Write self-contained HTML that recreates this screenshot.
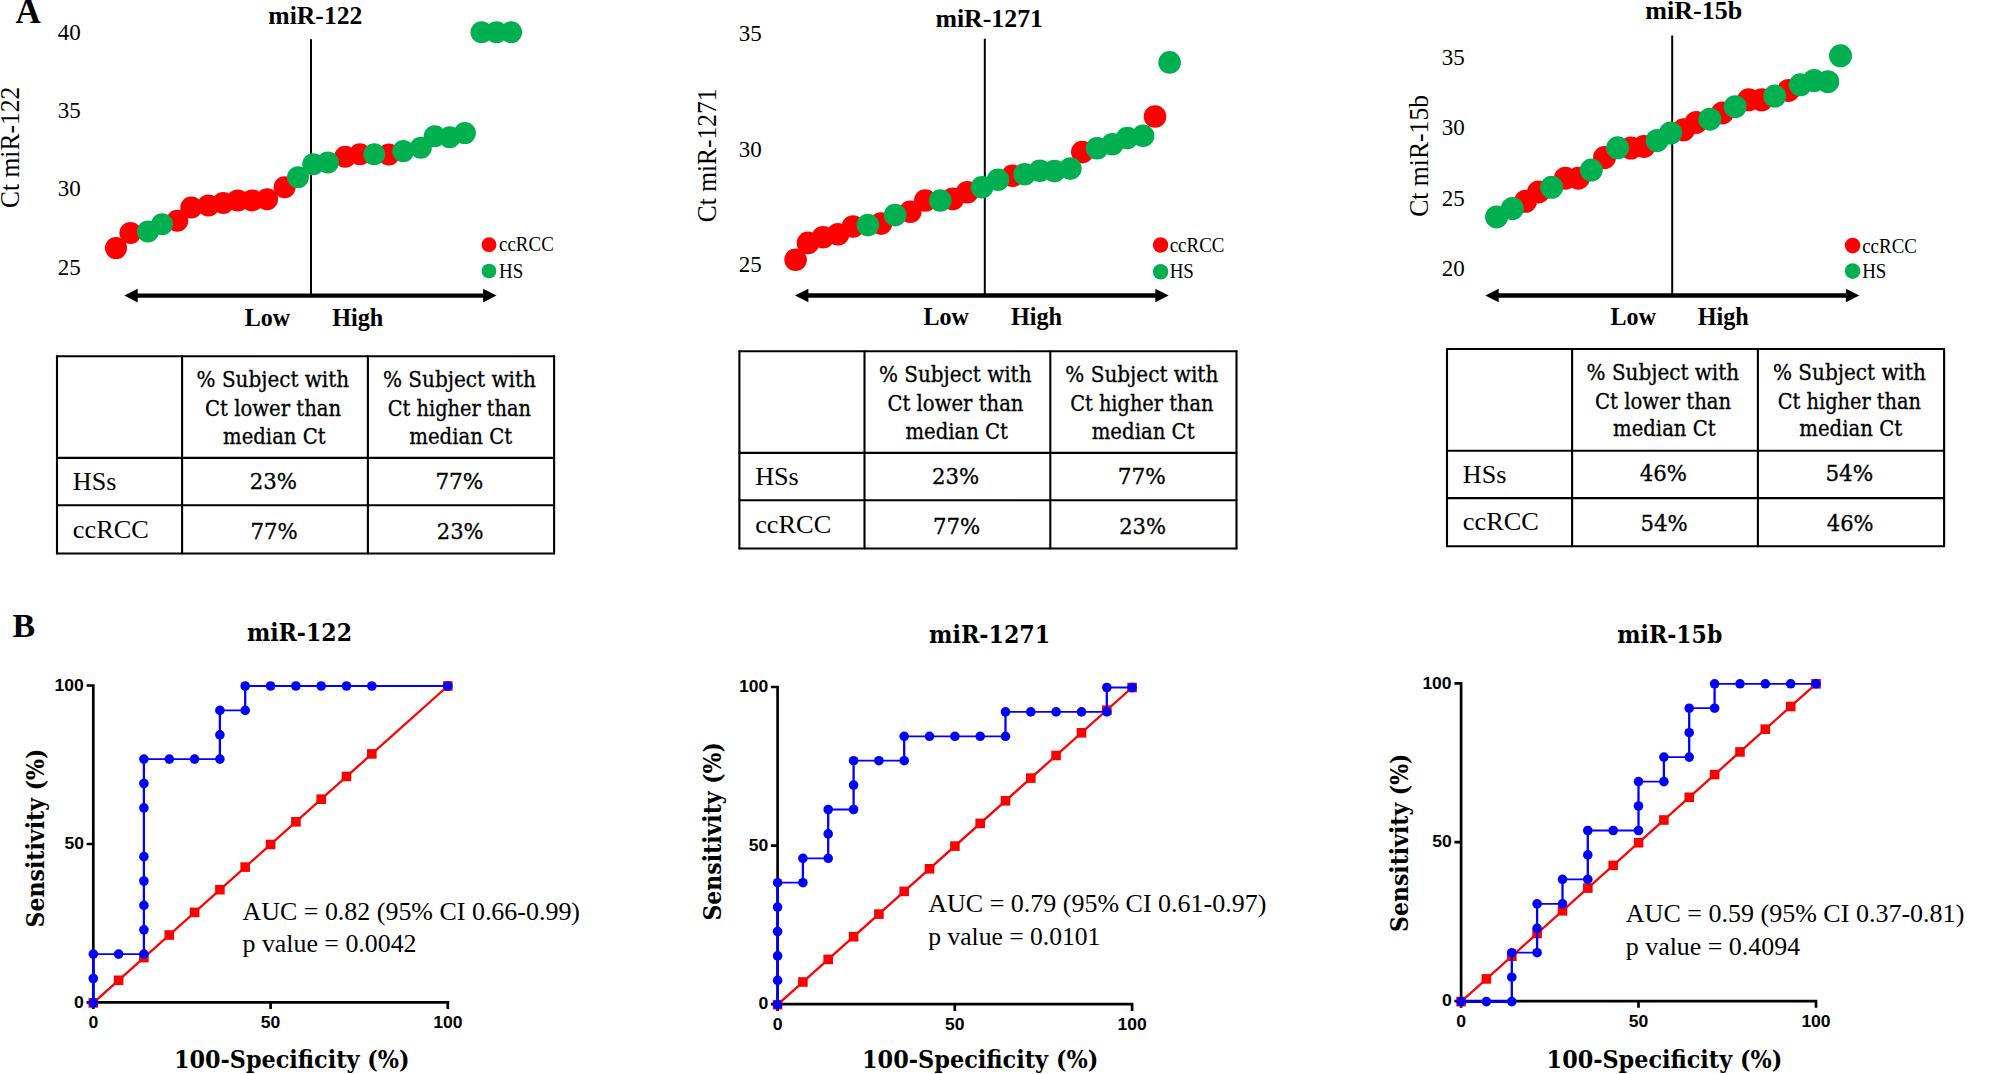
<!DOCTYPE html>
<html lang="en"><head><meta charset="utf-8"><title>Figure: Ct distribution and ROC curves for miR-122, miR-1271 and miR-15b</title>
<style>html,body{margin:0;padding:0;background:#fff}svg{display:block}text{fill:#000;white-space:pre}</style></head><body>
<svg width="2006" height="1074" viewBox="0 0 2006 1074">
<rect width="2006" height="1074" fill="#fff"/>
<text x="15.6" y="23.0" font-size="35" font-family='"Liberation Serif", serif' font-weight="bold">A</text>
<text x="12.5" y="637.4" font-size="34" font-family='"Liberation Serif", serif' font-weight="bold">B</text>
<line x1="311.0" y1="39.3" x2="311.0" y2="295.5" stroke="#000" stroke-width="2"/>
<line x1="136.7" y1="295.6" x2="484.1" y2="295.6" stroke="#000" stroke-width="4.4"/>
<polygon points="124.3,295.6 137.7,288.8 137.7,302.4" fill="#000"/>
<polygon points="496.5,295.6 483.1,288.8 483.1,302.4" fill="#000"/>
<g fill="#ff0000">
<circle cx="116.0" cy="248.1" r="11.0"/>
<circle cx="130.4" cy="233.0" r="11.0"/>
<circle cx="177.3" cy="220.8" r="11.0"/>
<circle cx="191.3" cy="207.5" r="11.0"/>
<circle cx="208.5" cy="205.4" r="11.0"/>
<circle cx="223.2" cy="203.0" r="11.0"/>
<circle cx="237.8" cy="200.4" r="11.0"/>
<circle cx="252.2" cy="200.4" r="11.0"/>
<circle cx="267.1" cy="199.2" r="11.0"/>
<circle cx="284.6" cy="187.3" r="11.0"/>
<circle cx="345.2" cy="156.8" r="11.0"/>
<circle cx="359.9" cy="154.3" r="11.0"/>
<circle cx="388.8" cy="154.5" r="11.0"/>
</g>
<g fill="#00b050">
<circle cx="148.0" cy="231.5" r="11.0"/>
<circle cx="162.0" cy="224.2" r="11.0"/>
<circle cx="298.0" cy="177.3" r="11.0"/>
<circle cx="313.2" cy="164.2" r="11.0"/>
<circle cx="327.9" cy="162.4" r="11.0"/>
<circle cx="374.2" cy="154.3" r="11.0"/>
<circle cx="403.3" cy="151.1" r="11.0"/>
<circle cx="420.8" cy="147.8" r="11.0"/>
<circle cx="434.7" cy="136.2" r="11.0"/>
<circle cx="449.7" cy="137.2" r="11.0"/>
<circle cx="464.9" cy="133.1" r="11.0"/>
<circle cx="481.5" cy="32.2" r="11.0"/>
<circle cx="496.5" cy="32.2" r="11.0"/>
<circle cx="511.1" cy="32.2" r="11.0"/>
</g>
<text x="268.3" y="23.7" font-size="25" font-family='"Liberation Serif", serif' font-weight="bold" textLength="94.1" lengthAdjust="spacingAndGlyphs">miR-122</text>
<text x="57.8" y="39.5" font-size="23.5" font-family='"Liberation Serif", serif' textLength="23.0" lengthAdjust="spacingAndGlyphs">40</text>
<text x="57.8" y="117.9" font-size="23.5" font-family='"Liberation Serif", serif' textLength="23.0" lengthAdjust="spacingAndGlyphs">35</text>
<text x="57.8" y="196.3" font-size="23.5" font-family='"Liberation Serif", serif' textLength="23.0" lengthAdjust="spacingAndGlyphs">30</text>
<text x="57.8" y="274.7" font-size="23.5" font-family='"Liberation Serif", serif' textLength="23.0" lengthAdjust="spacingAndGlyphs">25</text>
<text x="19.0" y="208.0" font-size="28" font-family='"Liberation Serif", serif' textLength="121.2" lengthAdjust="spacingAndGlyphs" transform="rotate(-90 19.0 208.0)">Ct miR-122</text>
<text x="244.7" y="326.0" font-size="25.5" font-family='"Liberation Serif", serif' font-weight="bold" textLength="45.4" lengthAdjust="spacingAndGlyphs">Low</text>
<text x="332.2" y="326.0" font-size="25.5" font-family='"Liberation Serif", serif' font-weight="bold" textLength="51.1" lengthAdjust="spacingAndGlyphs">High</text>
<circle cx="489.0" cy="244.7" r="7.4" fill="#ff0000"/>
<circle cx="489.0" cy="271.1" r="7.4" fill="#00b050"/>
<text x="499.0" y="251.3" font-size="20" font-family='"Liberation Serif", serif' textLength="54.8" lengthAdjust="spacingAndGlyphs">ccRCC</text>
<text x="499.0" y="278.0" font-size="20" font-family='"Liberation Serif", serif' textLength="24.2" lengthAdjust="spacingAndGlyphs">HS</text>
<line x1="984.8" y1="38.7" x2="984.8" y2="295.5" stroke="#000" stroke-width="2"/>
<line x1="807.4" y1="295.5" x2="1156.3" y2="295.5" stroke="#000" stroke-width="4.4"/>
<polygon points="795.0,295.5 808.4,288.7 808.4,302.3" fill="#000"/>
<polygon points="1168.7,295.5 1155.3,288.7 1155.3,302.3" fill="#000"/>
<g fill="#ff0000">
<circle cx="795.6" cy="259.8" r="11.3"/>
<circle cx="808.0" cy="242.9" r="11.3"/>
<circle cx="823.0" cy="237.3" r="11.3"/>
<circle cx="838.0" cy="234.2" r="11.3"/>
<circle cx="853.0" cy="226.5" r="11.3"/>
<circle cx="881.0" cy="223.6" r="11.3"/>
<circle cx="910.3" cy="211.7" r="11.3"/>
<circle cx="925.3" cy="200.5" r="11.3"/>
<circle cx="952.8" cy="198.9" r="11.3"/>
<circle cx="967.3" cy="192.2" r="11.3"/>
<circle cx="1012.5" cy="175.8" r="11.3"/>
<circle cx="1082.3" cy="152.1" r="11.3"/>
<circle cx="1155.0" cy="116.5" r="11.3"/>
</g>
<g fill="#00b050">
<circle cx="867.9" cy="225.1" r="11.3"/>
<circle cx="895.1" cy="215.1" r="11.3"/>
<circle cx="940.3" cy="200.5" r="11.3"/>
<circle cx="982.0" cy="187.3" r="11.3"/>
<circle cx="998.0" cy="179.8" r="11.3"/>
<circle cx="1024.6" cy="174.2" r="11.3"/>
<circle cx="1039.8" cy="170.8" r="11.3"/>
<circle cx="1054.4" cy="171.1" r="11.3"/>
<circle cx="1070.4" cy="168.6" r="11.3"/>
<circle cx="1097.1" cy="148.2" r="11.3"/>
<circle cx="1112.3" cy="144.3" r="11.3"/>
<circle cx="1127.2" cy="138.0" r="11.3"/>
<circle cx="1143.1" cy="135.8" r="11.3"/>
<circle cx="1169.6" cy="62.4" r="11.3"/>
</g>
<text x="935.4" y="26.7" font-size="25" font-family='"Liberation Serif", serif' font-weight="bold" textLength="107.6" lengthAdjust="spacingAndGlyphs">miR-1271</text>
<text x="738.7" y="40.8" font-size="23.5" font-family='"Liberation Serif", serif' textLength="23.0" lengthAdjust="spacingAndGlyphs">35</text>
<text x="738.7" y="156.5" font-size="23.5" font-family='"Liberation Serif", serif' textLength="23.0" lengthAdjust="spacingAndGlyphs">30</text>
<text x="738.7" y="272.2" font-size="23.5" font-family='"Liberation Serif", serif' textLength="23.0" lengthAdjust="spacingAndGlyphs">25</text>
<text x="716.2" y="222.3" font-size="28" font-family='"Liberation Serif", serif' textLength="133.8" lengthAdjust="spacingAndGlyphs" transform="rotate(-90 716.2 222.3)">Ct miR-1271</text>
<text x="923.5" y="325.4" font-size="25.5" font-family='"Liberation Serif", serif' font-weight="bold" textLength="45.4" lengthAdjust="spacingAndGlyphs">Low</text>
<text x="1010.9" y="325.3" font-size="25.5" font-family='"Liberation Serif", serif' font-weight="bold" textLength="51.1" lengthAdjust="spacingAndGlyphs">High</text>
<circle cx="1160.6" cy="245.0" r="7.7" fill="#ff0000"/>
<circle cx="1160.6" cy="271.8" r="7.7" fill="#00b050"/>
<text x="1169.7" y="251.6" font-size="20" font-family='"Liberation Serif", serif' textLength="54.8" lengthAdjust="spacingAndGlyphs">ccRCC</text>
<text x="1169.7" y="278.4" font-size="20" font-family='"Liberation Serif", serif' textLength="24.2" lengthAdjust="spacingAndGlyphs">HS</text>
<line x1="1672.2" y1="35.6" x2="1672.2" y2="295.5" stroke="#000" stroke-width="2"/>
<line x1="1497.7" y1="295.5" x2="1846.9" y2="295.5" stroke="#000" stroke-width="4.4"/>
<polygon points="1485.3,295.5 1498.7,288.7 1498.7,302.3" fill="#000"/>
<polygon points="1859.3,295.5 1845.9,288.7 1845.9,302.3" fill="#000"/>
<g fill="#ff0000">
<circle cx="1525.5" cy="201.3" r="11.5"/>
<circle cx="1538.6" cy="191.9" r="11.5"/>
<circle cx="1565.4" cy="178.2" r="11.5"/>
<circle cx="1578.3" cy="178.2" r="11.5"/>
<circle cx="1604.5" cy="157.6" r="11.5"/>
<circle cx="1630.9" cy="148.0" r="11.5"/>
<circle cx="1644.0" cy="146.4" r="11.5"/>
<circle cx="1683.6" cy="129.8" r="11.5"/>
<circle cx="1696.3" cy="122.4" r="11.5"/>
<circle cx="1722.4" cy="112.9" r="11.5"/>
<circle cx="1748.6" cy="99.8" r="11.5"/>
<circle cx="1761.7" cy="99.8" r="11.5"/>
<circle cx="1788.5" cy="90.4" r="11.5"/>
</g>
<g fill="#00b050">
<circle cx="1496.6" cy="216.9" r="11.5"/>
<circle cx="1512.4" cy="208.5" r="11.5"/>
<circle cx="1551.7" cy="187.3" r="11.5"/>
<circle cx="1591.3" cy="170.1" r="11.5"/>
<circle cx="1617.6" cy="147.8" r="11.5"/>
<circle cx="1657.1" cy="140.5" r="11.5"/>
<circle cx="1670.6" cy="133.0" r="11.5"/>
<circle cx="1709.8" cy="119.2" r="11.5"/>
<circle cx="1735.2" cy="106.7" r="11.5"/>
<circle cx="1774.8" cy="96.1" r="11.5"/>
<circle cx="1800.3" cy="84.8" r="11.5"/>
<circle cx="1814.1" cy="80.5" r="11.5"/>
<circle cx="1827.8" cy="81.7" r="11.5"/>
<circle cx="1840.5" cy="55.8" r="11.5"/>
</g>
<text x="1645.2" y="18.7" font-size="25" font-family='"Liberation Serif", serif' font-weight="bold" textLength="97.0" lengthAdjust="spacingAndGlyphs">miR-15b</text>
<text x="1441.8" y="64.9" font-size="23.5" font-family='"Liberation Serif", serif' textLength="23.0" lengthAdjust="spacingAndGlyphs">35</text>
<text x="1441.8" y="135.4" font-size="23.5" font-family='"Liberation Serif", serif' textLength="23.0" lengthAdjust="spacingAndGlyphs">30</text>
<text x="1441.8" y="205.9" font-size="23.5" font-family='"Liberation Serif", serif' textLength="23.0" lengthAdjust="spacingAndGlyphs">25</text>
<text x="1441.8" y="276.4" font-size="23.5" font-family='"Liberation Serif", serif' textLength="23.0" lengthAdjust="spacingAndGlyphs">20</text>
<text x="1428.0" y="216.8" font-size="28" font-family='"Liberation Serif", serif' textLength="121.9" lengthAdjust="spacingAndGlyphs" transform="rotate(-90 1428.0 216.8)">Ct miR-15b</text>
<text x="1610.6" y="325.4" font-size="25.5" font-family='"Liberation Serif", serif' font-weight="bold" textLength="45.4" lengthAdjust="spacingAndGlyphs">Low</text>
<text x="1697.7" y="325.2" font-size="25.5" font-family='"Liberation Serif", serif' font-weight="bold" textLength="51.1" lengthAdjust="spacingAndGlyphs">High</text>
<circle cx="1852.6" cy="245.6" r="7.8" fill="#ff0000"/>
<circle cx="1852.6" cy="271.1" r="7.8" fill="#00b050"/>
<text x="1862.2" y="252.6" font-size="20" font-family='"Liberation Serif", serif' textLength="54.8" lengthAdjust="spacingAndGlyphs">ccRCC</text>
<text x="1862.2" y="278.4" font-size="20" font-family='"Liberation Serif", serif' textLength="24.2" lengthAdjust="spacingAndGlyphs">HS</text>
<g transform="translate(0,0)">
<g stroke="#000" stroke-width="2.1" stroke-linecap="round">
<line x1="57.0" y1="356.2" x2="57.0" y2="553.5"/>
<line x1="182.1" y1="356.2" x2="182.1" y2="553.5"/>
<line x1="367.9" y1="356.2" x2="367.9" y2="553.5"/>
<line x1="554.1" y1="356.2" x2="554.1" y2="553.5"/>
<line x1="57.0" y1="356.2" x2="554.1" y2="356.2"/>
<line x1="57.0" y1="457.9" x2="554.1" y2="457.9"/>
<line x1="57.0" y1="505.3" x2="554.1" y2="505.3"/>
<line x1="57.0" y1="553.5" x2="554.1" y2="553.5"/>
</g>
<text x="196.6" y="386.9" font-size="22" font-family='"DejaVu Serif Condensed", "DejaVu Serif", "Liberation Serif", serif' textLength="152.5" lengthAdjust="spacingAndGlyphs" stroke="#000" stroke-width="0.3">% Subject with</text>
<text x="205.1" y="415.8" font-size="22" font-family='"DejaVu Serif Condensed", "DejaVu Serif", "Liberation Serif", serif' textLength="136.0" lengthAdjust="spacingAndGlyphs" stroke="#000" stroke-width="0.3">Ct lower than</text>
<text x="223.1" y="443.7" font-size="22" font-family='"DejaVu Serif Condensed", "DejaVu Serif", "Liberation Serif", serif' textLength="102.5" lengthAdjust="spacingAndGlyphs" stroke="#000" stroke-width="0.3">median Ct</text>
<text x="382.9" y="386.9" font-size="22" font-family='"DejaVu Serif Condensed", "DejaVu Serif", "Liberation Serif", serif' textLength="153.0" lengthAdjust="spacingAndGlyphs" stroke="#000" stroke-width="0.3">% Subject with</text>
<text x="387.8" y="415.8" font-size="22" font-family='"DejaVu Serif Condensed", "DejaVu Serif", "Liberation Serif", serif' textLength="143.2" lengthAdjust="spacingAndGlyphs" stroke="#000" stroke-width="0.3">Ct higher than</text>
<text x="409.3" y="443.7" font-size="22" font-family='"DejaVu Serif Condensed", "DejaVu Serif", "Liberation Serif", serif' textLength="102.9" lengthAdjust="spacingAndGlyphs" stroke="#000" stroke-width="0.3">median Ct</text>
<text x="72.8" y="490.4" font-size="26" font-family='"Liberation Serif", serif' textLength="43.6" lengthAdjust="spacingAndGlyphs">HSs</text>
<text x="72.8" y="537.5" font-size="26" font-family='"Liberation Serif", serif' textLength="76.0" lengthAdjust="spacingAndGlyphs">ccRCC</text>
<text x="249.7" y="488.7" font-size="22.6" font-family='"DejaVu Serif Condensed", "DejaVu Serif", "Liberation Serif", serif' textLength="47.2" lengthAdjust="spacingAndGlyphs" stroke="#000" stroke-width="0.3">23%</text>
<text x="435.4" y="488.7" font-size="22.6" font-family='"DejaVu Serif Condensed", "DejaVu Serif", "Liberation Serif", serif' textLength="48.0" lengthAdjust="spacingAndGlyphs" stroke="#000" stroke-width="0.3">77%</text>
<text x="250.5" y="538.5" font-size="22.6" font-family='"DejaVu Serif Condensed", "DejaVu Serif", "Liberation Serif", serif' textLength="47.2" lengthAdjust="spacingAndGlyphs" stroke="#000" stroke-width="0.3">77%</text>
<text x="436.8" y="538.5" font-size="22.6" font-family='"DejaVu Serif Condensed", "DejaVu Serif", "Liberation Serif", serif' textLength="46.8" lengthAdjust="spacingAndGlyphs" stroke="#000" stroke-width="0.3">23%</text>
</g>
<g transform="translate(682.4,-5.0)">
<g stroke="#000" stroke-width="2.1" stroke-linecap="round">
<line x1="57.0" y1="356.2" x2="57.0" y2="553.5"/>
<line x1="182.1" y1="356.2" x2="182.1" y2="553.5"/>
<line x1="367.9" y1="356.2" x2="367.9" y2="553.5"/>
<line x1="554.1" y1="356.2" x2="554.1" y2="553.5"/>
<line x1="57.0" y1="356.2" x2="554.1" y2="356.2"/>
<line x1="57.0" y1="457.9" x2="554.1" y2="457.9"/>
<line x1="57.0" y1="505.3" x2="554.1" y2="505.3"/>
<line x1="57.0" y1="553.5" x2="554.1" y2="553.5"/>
</g>
<text x="196.6" y="386.9" font-size="22" font-family='"DejaVu Serif Condensed", "DejaVu Serif", "Liberation Serif", serif' textLength="152.5" lengthAdjust="spacingAndGlyphs" stroke="#000" stroke-width="0.3">% Subject with</text>
<text x="205.1" y="415.8" font-size="22" font-family='"DejaVu Serif Condensed", "DejaVu Serif", "Liberation Serif", serif' textLength="136.0" lengthAdjust="spacingAndGlyphs" stroke="#000" stroke-width="0.3">Ct lower than</text>
<text x="223.1" y="443.7" font-size="22" font-family='"DejaVu Serif Condensed", "DejaVu Serif", "Liberation Serif", serif' textLength="102.5" lengthAdjust="spacingAndGlyphs" stroke="#000" stroke-width="0.3">median Ct</text>
<text x="382.9" y="386.9" font-size="22" font-family='"DejaVu Serif Condensed", "DejaVu Serif", "Liberation Serif", serif' textLength="153.0" lengthAdjust="spacingAndGlyphs" stroke="#000" stroke-width="0.3">% Subject with</text>
<text x="387.8" y="415.8" font-size="22" font-family='"DejaVu Serif Condensed", "DejaVu Serif", "Liberation Serif", serif' textLength="143.2" lengthAdjust="spacingAndGlyphs" stroke="#000" stroke-width="0.3">Ct higher than</text>
<text x="409.3" y="443.7" font-size="22" font-family='"DejaVu Serif Condensed", "DejaVu Serif", "Liberation Serif", serif' textLength="102.9" lengthAdjust="spacingAndGlyphs" stroke="#000" stroke-width="0.3">median Ct</text>
<text x="72.8" y="490.4" font-size="26" font-family='"Liberation Serif", serif' textLength="43.6" lengthAdjust="spacingAndGlyphs">HSs</text>
<text x="72.8" y="537.5" font-size="26" font-family='"Liberation Serif", serif' textLength="76.0" lengthAdjust="spacingAndGlyphs">ccRCC</text>
<text x="249.7" y="488.7" font-size="22.6" font-family='"DejaVu Serif Condensed", "DejaVu Serif", "Liberation Serif", serif' textLength="47.2" lengthAdjust="spacingAndGlyphs" stroke="#000" stroke-width="0.3">23%</text>
<text x="435.4" y="488.7" font-size="22.6" font-family='"DejaVu Serif Condensed", "DejaVu Serif", "Liberation Serif", serif' textLength="48.0" lengthAdjust="spacingAndGlyphs" stroke="#000" stroke-width="0.3">77%</text>
<text x="250.5" y="538.5" font-size="22.6" font-family='"DejaVu Serif Condensed", "DejaVu Serif", "Liberation Serif", serif' textLength="47.2" lengthAdjust="spacingAndGlyphs" stroke="#000" stroke-width="0.3">77%</text>
<text x="436.8" y="538.5" font-size="22.6" font-family='"DejaVu Serif Condensed", "DejaVu Serif", "Liberation Serif", serif' textLength="46.8" lengthAdjust="spacingAndGlyphs" stroke="#000" stroke-width="0.3">23%</text>
</g>
<g transform="translate(1390.0,-7.2)">
<g stroke="#000" stroke-width="2.1" stroke-linecap="round">
<line x1="57.0" y1="356.2" x2="57.0" y2="553.5"/>
<line x1="182.1" y1="356.2" x2="182.1" y2="553.5"/>
<line x1="367.9" y1="356.2" x2="367.9" y2="553.5"/>
<line x1="554.1" y1="356.2" x2="554.1" y2="553.5"/>
<line x1="57.0" y1="356.2" x2="554.1" y2="356.2"/>
<line x1="57.0" y1="457.9" x2="554.1" y2="457.9"/>
<line x1="57.0" y1="505.3" x2="554.1" y2="505.3"/>
<line x1="57.0" y1="553.5" x2="554.1" y2="553.5"/>
</g>
<text x="196.6" y="386.9" font-size="22" font-family='"DejaVu Serif Condensed", "DejaVu Serif", "Liberation Serif", serif' textLength="152.5" lengthAdjust="spacingAndGlyphs" stroke="#000" stroke-width="0.3">% Subject with</text>
<text x="205.1" y="415.8" font-size="22" font-family='"DejaVu Serif Condensed", "DejaVu Serif", "Liberation Serif", serif' textLength="136.0" lengthAdjust="spacingAndGlyphs" stroke="#000" stroke-width="0.3">Ct lower than</text>
<text x="223.1" y="443.7" font-size="22" font-family='"DejaVu Serif Condensed", "DejaVu Serif", "Liberation Serif", serif' textLength="102.5" lengthAdjust="spacingAndGlyphs" stroke="#000" stroke-width="0.3">median Ct</text>
<text x="382.9" y="386.9" font-size="22" font-family='"DejaVu Serif Condensed", "DejaVu Serif", "Liberation Serif", serif' textLength="153.0" lengthAdjust="spacingAndGlyphs" stroke="#000" stroke-width="0.3">% Subject with</text>
<text x="387.8" y="415.8" font-size="22" font-family='"DejaVu Serif Condensed", "DejaVu Serif", "Liberation Serif", serif' textLength="143.2" lengthAdjust="spacingAndGlyphs" stroke="#000" stroke-width="0.3">Ct higher than</text>
<text x="409.3" y="443.7" font-size="22" font-family='"DejaVu Serif Condensed", "DejaVu Serif", "Liberation Serif", serif' textLength="102.9" lengthAdjust="spacingAndGlyphs" stroke="#000" stroke-width="0.3">median Ct</text>
<text x="72.8" y="490.4" font-size="26" font-family='"Liberation Serif", serif' textLength="43.6" lengthAdjust="spacingAndGlyphs">HSs</text>
<text x="72.8" y="537.5" font-size="26" font-family='"Liberation Serif", serif' textLength="76.0" lengthAdjust="spacingAndGlyphs">ccRCC</text>
<text x="249.7" y="488.7" font-size="22.6" font-family='"DejaVu Serif Condensed", "DejaVu Serif", "Liberation Serif", serif' textLength="47.2" lengthAdjust="spacingAndGlyphs" stroke="#000" stroke-width="0.3">46%</text>
<text x="435.4" y="488.7" font-size="22.6" font-family='"DejaVu Serif Condensed", "DejaVu Serif", "Liberation Serif", serif' textLength="48.0" lengthAdjust="spacingAndGlyphs" stroke="#000" stroke-width="0.3">54%</text>
<text x="250.5" y="538.5" font-size="22.6" font-family='"DejaVu Serif Condensed", "DejaVu Serif", "Liberation Serif", serif' textLength="47.2" lengthAdjust="spacingAndGlyphs" stroke="#000" stroke-width="0.3">54%</text>
<text x="436.8" y="538.5" font-size="22.6" font-family='"DejaVu Serif Condensed", "DejaVu Serif", "Liberation Serif", serif' textLength="46.8" lengthAdjust="spacingAndGlyphs" stroke="#000" stroke-width="0.3">46%</text>
</g>
<g stroke="#000" stroke-width="2.7" fill="none">
<path d="M86.6,685.5 H93.3 V1002.4 H447.8 V1009.1"/>
<path d="M86.6,844.0 h6.7 M86.6,1002.4 h6.7 M93.3,1002.4 v6.7 M270.6,1002.4 v6.7"/>
</g>
<text x="54.6" y="690.7" font-size="16.6" font-family='"Liberation Sans", sans-serif' font-weight="bold" textLength="29.2" lengthAdjust="spacingAndGlyphs">100</text>
<text x="433.2" y="1028.0" font-size="16.6" font-family='"Liberation Sans", sans-serif' font-weight="bold" textLength="29.2" lengthAdjust="spacingAndGlyphs">100</text>
<text x="64.4" y="849.2" font-size="16.6" font-family='"Liberation Sans", sans-serif' font-weight="bold" textLength="19.5" lengthAdjust="spacingAndGlyphs">50</text>
<text x="260.8" y="1028.0" font-size="16.6" font-family='"Liberation Sans", sans-serif' font-weight="bold" textLength="19.5" lengthAdjust="spacingAndGlyphs">50</text>
<text x="74.1" y="1007.6" font-size="16.6" font-family='"Liberation Sans", sans-serif' font-weight="bold" textLength="9.8" lengthAdjust="spacingAndGlyphs">0</text>
<text x="88.4" y="1028.0" font-size="16.6" font-family='"Liberation Sans", sans-serif' font-weight="bold" textLength="9.8" lengthAdjust="spacingAndGlyphs">0</text>
<polyline points="93.3,1002.9 447.8,686.0" stroke="#ff0000" stroke-width="2.3" fill="none"/>
<g fill="#ff0000">
<rect x="88.5" y="998.1" width="9.6" height="9.6"/>
<rect x="113.8" y="975.5" width="9.6" height="9.6"/>
<rect x="139.1" y="952.8" width="9.6" height="9.6"/>
<rect x="164.5" y="930.2" width="9.6" height="9.6"/>
<rect x="189.8" y="907.6" width="9.6" height="9.6"/>
<rect x="215.1" y="884.9" width="9.6" height="9.6"/>
<rect x="240.4" y="862.3" width="9.6" height="9.6"/>
<rect x="265.8" y="839.7" width="9.6" height="9.6"/>
<rect x="291.1" y="817.0" width="9.6" height="9.6"/>
<rect x="316.4" y="794.4" width="9.6" height="9.6"/>
<rect x="341.7" y="771.7" width="9.6" height="9.6"/>
<rect x="367.0" y="749.1" width="9.6" height="9.6"/>
<rect x="443.0" y="681.2" width="9.6" height="9.6"/>
</g>
<path d="M93.3,954.1 L118.6,954.1 M118.6,954.1 L143.9,954.1 M143.9,759.1 L169.3,759.1 M169.3,759.1 L194.6,759.1 M194.6,759.1 L219.9,759.1 M219.9,710.4 L245.2,710.4 M245.2,686.0 L270.6,686.0 M270.6,686.0 L295.9,686.0 M295.9,686.0 L321.2,686.0 M321.2,686.0 L346.5,686.0 M346.5,686.0 L371.8,686.0 M371.8,686.0 L447.8,686.0" stroke="#0000ff" stroke-width="1.8" fill="none"/>
<path d="M143.9,954.1 L143.9,929.8 M143.9,929.8 L143.9,905.4 M143.9,905.4 L143.9,881.0 M143.9,881.0 L143.9,856.6 M143.9,856.6 L143.9,832.3 M143.9,832.3 L143.9,807.9 M143.9,807.9 L143.9,783.5 M143.9,783.5 L143.9,759.1 M219.9,759.1 L219.9,734.8 M219.9,734.8 L219.9,710.4 M245.2,710.4 L245.2,686.0" stroke="#0000ff" stroke-width="2.3" fill="none"/>
<path d="M93.3,1002.9 L93.3,978.5 M93.3,978.5 L93.3,954.1" stroke="#0000ff" stroke-width="2.6" fill="none"/>
<g fill="#0000ff">
<circle cx="93.3" cy="1002.9" r="4.8"/>
<circle cx="93.3" cy="978.5" r="4.8"/>
<circle cx="93.3" cy="954.1" r="4.8"/>
<circle cx="118.6" cy="954.1" r="4.8"/>
<circle cx="143.9" cy="954.1" r="4.8"/>
<circle cx="143.9" cy="929.8" r="4.8"/>
<circle cx="143.9" cy="905.4" r="4.8"/>
<circle cx="143.9" cy="881.0" r="4.8"/>
<circle cx="143.9" cy="856.6" r="4.8"/>
<circle cx="143.9" cy="807.9" r="4.8"/>
<circle cx="143.9" cy="783.5" r="4.8"/>
<circle cx="143.9" cy="759.1" r="4.8"/>
<circle cx="169.3" cy="759.1" r="4.8"/>
<circle cx="194.6" cy="759.1" r="4.8"/>
<circle cx="219.9" cy="759.1" r="4.8"/>
<circle cx="219.9" cy="734.8" r="4.8"/>
<circle cx="219.9" cy="710.4" r="4.8"/>
<circle cx="245.2" cy="710.4" r="4.8"/>
<circle cx="245.2" cy="686.0" r="4.8"/>
<circle cx="270.6" cy="686.0" r="4.8"/>
<circle cx="295.9" cy="686.0" r="4.8"/>
<circle cx="321.2" cy="686.0" r="4.8"/>
<circle cx="346.5" cy="686.0" r="4.8"/>
<circle cx="371.8" cy="686.0" r="4.8"/>
<circle cx="447.8" cy="686.0" r="4.8"/>
</g>
<text x="246.9" y="640.9" font-size="24" font-family='"DejaVu Serif Condensed", "DejaVu Serif", "Liberation Serif", serif' font-weight="bold" textLength="105.1" lengthAdjust="spacingAndGlyphs">miR-122</text>
<text x="173.9" y="1067.9" font-size="24" font-family='"DejaVu Serif Condensed", "DejaVu Serif", "Liberation Serif", serif' font-weight="bold" textLength="235.7" lengthAdjust="spacingAndGlyphs">100-Specificity (%)</text>
<text x="44.0" y="927.4" font-size="24" font-family='"DejaVu Serif Condensed", "DejaVu Serif", "Liberation Serif", serif' font-weight="bold" textLength="178.8" lengthAdjust="spacingAndGlyphs" transform="rotate(-90 44.0 927.4)">Sensitivity (%)</text>
<text x="242.5" y="919.7" font-size="25.5" font-family='"Liberation Serif", serif' textLength="337.5" lengthAdjust="spacingAndGlyphs">AUC = 0.82 (95% CI 0.66-0.99)</text>
<text x="242.5" y="951.9" font-size="25.5" font-family='"Liberation Serif", serif' textLength="174.0" lengthAdjust="spacingAndGlyphs">p value = 0.0042</text>
<g stroke="#000" stroke-width="2.7" fill="none">
<path d="M770.9,687.0 H777.6 V1004.2 H1132.1 V1010.9"/>
<path d="M770.9,845.6 h6.7 M770.9,1004.2 h6.7 M777.6,1004.2 v6.7 M954.8,1004.2 v6.7"/>
</g>
<text x="739.0" y="692.2" font-size="16.6" font-family='"Liberation Sans", sans-serif' font-weight="bold" textLength="29.2" lengthAdjust="spacingAndGlyphs">100</text>
<text x="1117.5" y="1029.8" font-size="16.6" font-family='"Liberation Sans", sans-serif' font-weight="bold" textLength="29.2" lengthAdjust="spacingAndGlyphs">100</text>
<text x="748.7" y="850.8" font-size="16.6" font-family='"Liberation Sans", sans-serif' font-weight="bold" textLength="19.5" lengthAdjust="spacingAndGlyphs">50</text>
<text x="945.1" y="1029.8" font-size="16.6" font-family='"Liberation Sans", sans-serif' font-weight="bold" textLength="19.5" lengthAdjust="spacingAndGlyphs">50</text>
<text x="758.5" y="1009.4" font-size="16.6" font-family='"Liberation Sans", sans-serif' font-weight="bold" textLength="9.8" lengthAdjust="spacingAndGlyphs">0</text>
<text x="772.7" y="1029.8" font-size="16.6" font-family='"Liberation Sans", sans-serif' font-weight="bold" textLength="9.8" lengthAdjust="spacingAndGlyphs">0</text>
<polyline points="777.6,1004.7 1132.1,687.5" stroke="#ff0000" stroke-width="2.3" fill="none"/>
<g fill="#ff0000">
<rect x="772.8" y="999.9" width="9.6" height="9.6"/>
<rect x="798.1" y="977.2" width="9.6" height="9.6"/>
<rect x="823.4" y="954.6" width="9.6" height="9.6"/>
<rect x="848.8" y="931.9" width="9.6" height="9.6"/>
<rect x="874.1" y="909.3" width="9.6" height="9.6"/>
<rect x="899.4" y="886.6" width="9.6" height="9.6"/>
<rect x="924.7" y="864.0" width="9.6" height="9.6"/>
<rect x="950.1" y="841.3" width="9.6" height="9.6"/>
<rect x="975.4" y="818.6" width="9.6" height="9.6"/>
<rect x="1000.7" y="796.0" width="9.6" height="9.6"/>
<rect x="1026.0" y="773.3" width="9.6" height="9.6"/>
<rect x="1051.3" y="750.7" width="9.6" height="9.6"/>
<rect x="1076.7" y="728.0" width="9.6" height="9.6"/>
<rect x="1102.0" y="705.4" width="9.6" height="9.6"/>
<rect x="1127.3" y="682.7" width="9.6" height="9.6"/>
</g>
<path d="M777.6,882.7 L802.9,882.7 M802.9,858.3 L828.2,858.3 M828.2,809.5 L853.6,809.5 M853.6,760.7 L878.9,760.7 M878.9,760.7 L904.2,760.7 M904.2,736.3 L929.5,736.3 M929.5,736.3 L954.9,736.3 M954.9,736.3 L980.2,736.3 M980.2,736.3 L1005.5,736.3 M1005.5,711.9 L1030.8,711.9 M1030.8,711.9 L1056.1,711.9 M1056.1,711.9 L1081.5,711.9 M1081.5,711.9 L1106.8,711.9 M1106.8,687.5 L1132.1,687.5" stroke="#0000ff" stroke-width="1.8" fill="none"/>
<path d="M802.9,882.7 L802.9,858.3 M828.2,858.3 L828.2,833.9 M828.2,833.9 L828.2,809.5 M853.6,809.5 L853.6,785.1 M853.6,785.1 L853.6,760.7 M904.2,760.7 L904.2,736.3 M1005.5,736.3 L1005.5,711.9 M1106.8,711.9 L1106.8,687.5" stroke="#0000ff" stroke-width="2.3" fill="none"/>
<path d="M777.6,1004.7 L777.6,980.3 M777.6,980.3 L777.6,955.9 M777.6,955.9 L777.6,931.5 M777.6,931.5 L777.6,907.1 M777.6,907.1 L777.6,882.7" stroke="#0000ff" stroke-width="2.6" fill="none"/>
<g fill="#0000ff">
<circle cx="777.6" cy="1004.7" r="4.8"/>
<circle cx="777.6" cy="980.3" r="4.8"/>
<circle cx="777.6" cy="955.9" r="4.8"/>
<circle cx="777.6" cy="931.5" r="4.8"/>
<circle cx="777.6" cy="907.1" r="4.8"/>
<circle cx="777.6" cy="882.7" r="4.8"/>
<circle cx="802.9" cy="882.7" r="4.8"/>
<circle cx="802.9" cy="858.3" r="4.8"/>
<circle cx="828.2" cy="858.3" r="4.8"/>
<circle cx="828.2" cy="833.9" r="4.8"/>
<circle cx="828.2" cy="809.5" r="4.8"/>
<circle cx="853.6" cy="809.5" r="4.8"/>
<circle cx="853.6" cy="785.1" r="4.8"/>
<circle cx="853.6" cy="760.7" r="4.8"/>
<circle cx="878.9" cy="760.7" r="4.8"/>
<circle cx="904.2" cy="760.7" r="4.8"/>
<circle cx="904.2" cy="736.3" r="4.8"/>
<circle cx="929.5" cy="736.3" r="4.8"/>
<circle cx="954.9" cy="736.3" r="4.8"/>
<circle cx="980.2" cy="736.3" r="4.8"/>
<circle cx="1005.5" cy="736.3" r="4.8"/>
<circle cx="1005.5" cy="711.9" r="4.8"/>
<circle cx="1030.8" cy="711.9" r="4.8"/>
<circle cx="1056.1" cy="711.9" r="4.8"/>
<circle cx="1081.5" cy="711.9" r="4.8"/>
<circle cx="1106.8" cy="711.9" r="4.8"/>
<circle cx="1106.8" cy="687.5" r="4.8"/>
<circle cx="1132.1" cy="687.5" r="4.8"/>
</g>
<text x="929.0" y="642.7" font-size="24" font-family='"DejaVu Serif Condensed", "DejaVu Serif", "Liberation Serif", serif' font-weight="bold" textLength="121.2" lengthAdjust="spacingAndGlyphs">miR-1271</text>
<text x="862.0" y="1067.5" font-size="24" font-family='"DejaVu Serif Condensed", "DejaVu Serif", "Liberation Serif", serif' font-weight="bold" textLength="236.4" lengthAdjust="spacingAndGlyphs">100-Specificity (%)</text>
<text x="721.0" y="920.5" font-size="24" font-family='"DejaVu Serif Condensed", "DejaVu Serif", "Liberation Serif", serif' font-weight="bold" textLength="178.4" lengthAdjust="spacingAndGlyphs" transform="rotate(-90 721.0 920.5)">Sensitivity (%)</text>
<text x="928.3" y="912.2" font-size="25.5" font-family='"Liberation Serif", serif' textLength="338.0" lengthAdjust="spacingAndGlyphs">AUC = 0.79 (95% CI 0.61-0.97)</text>
<text x="928.3" y="944.9" font-size="25.5" font-family='"Liberation Serif", serif' textLength="172.1" lengthAdjust="spacingAndGlyphs">p value = 0.0101</text>
<g stroke="#000" stroke-width="2.7" fill="none">
<path d="M1454.4,683.3 H1461.1 V1001.1 H1816.0 V1007.8"/>
<path d="M1454.4,842.2 h6.7 M1454.4,1001.1 h6.7 M1461.1,1001.1 v6.7 M1638.5,1001.1 v6.7"/>
</g>
<text x="1422.4" y="688.5" font-size="16.6" font-family='"Liberation Sans", sans-serif' font-weight="bold" textLength="29.2" lengthAdjust="spacingAndGlyphs">100</text>
<text x="1801.4" y="1026.7" font-size="16.6" font-family='"Liberation Sans", sans-serif' font-weight="bold" textLength="29.2" lengthAdjust="spacingAndGlyphs">100</text>
<text x="1432.2" y="847.4" font-size="16.6" font-family='"Liberation Sans", sans-serif' font-weight="bold" textLength="19.5" lengthAdjust="spacingAndGlyphs">50</text>
<text x="1628.8" y="1026.7" font-size="16.6" font-family='"Liberation Sans", sans-serif' font-weight="bold" textLength="19.5" lengthAdjust="spacingAndGlyphs">50</text>
<text x="1441.9" y="1006.3" font-size="16.6" font-family='"Liberation Sans", sans-serif' font-weight="bold" textLength="9.8" lengthAdjust="spacingAndGlyphs">0</text>
<text x="1456.2" y="1026.7" font-size="16.6" font-family='"Liberation Sans", sans-serif' font-weight="bold" textLength="9.8" lengthAdjust="spacingAndGlyphs">0</text>
<polyline points="1461.1,1001.6 1816.0,683.8" stroke="#ff0000" stroke-width="2.3" fill="none"/>
<g fill="#ff0000">
<rect x="1456.3" y="996.8" width="9.6" height="9.6"/>
<rect x="1481.6" y="974.1" width="9.6" height="9.6"/>
<rect x="1507.0" y="951.4" width="9.6" height="9.6"/>
<rect x="1532.3" y="928.7" width="9.6" height="9.6"/>
<rect x="1557.7" y="906.0" width="9.6" height="9.6"/>
<rect x="1583.0" y="883.3" width="9.6" height="9.6"/>
<rect x="1608.4" y="860.6" width="9.6" height="9.6"/>
<rect x="1633.8" y="837.9" width="9.6" height="9.6"/>
<rect x="1659.1" y="815.2" width="9.6" height="9.6"/>
<rect x="1684.5" y="792.5" width="9.6" height="9.6"/>
<rect x="1709.8" y="769.8" width="9.6" height="9.6"/>
<rect x="1735.2" y="747.1" width="9.6" height="9.6"/>
<rect x="1760.5" y="724.4" width="9.6" height="9.6"/>
<rect x="1785.9" y="701.7" width="9.6" height="9.6"/>
<rect x="1811.2" y="679.0" width="9.6" height="9.6"/>
</g>
<path d="M1511.8,952.7 L1537.1,952.7 M1537.1,903.8 L1562.5,903.8 M1562.5,879.4 L1587.8,879.4 M1587.8,830.5 L1613.2,830.5 M1613.2,830.5 L1638.5,830.5 M1638.5,781.6 L1663.9,781.6 M1663.9,757.1 L1689.2,757.1 M1689.2,708.2 L1714.6,708.2 M1714.6,683.8 L1740.0,683.8 M1740.0,683.8 L1765.3,683.8 M1765.3,683.8 L1790.7,683.8 M1790.7,683.8 L1816.0,683.8" stroke="#0000ff" stroke-width="1.8" fill="none"/>
<path d="M1511.8,1001.6 L1511.8,977.2 M1511.8,977.2 L1511.8,952.7 M1537.1,952.7 L1537.1,928.3 M1537.1,928.3 L1537.1,903.8 M1562.5,903.8 L1562.5,879.4 M1587.8,879.4 L1587.8,854.9 M1587.8,854.9 L1587.8,830.5 M1638.5,830.5 L1638.5,806.0 M1638.5,806.0 L1638.5,781.6 M1663.9,781.6 L1663.9,757.1 M1689.2,757.1 L1689.2,732.7 M1689.2,732.7 L1689.2,708.2 M1714.6,708.2 L1714.6,683.8" stroke="#0000ff" stroke-width="2.3" fill="none"/>
<path d="M1461.1,1001.6 L1486.4,1001.6 M1486.4,1001.6 L1511.8,1001.6" stroke="#0000ff" stroke-width="2.6" fill="none"/>
<g fill="#0000ff">
<circle cx="1461.1" cy="1001.6" r="4.8"/>
<circle cx="1486.4" cy="1001.6" r="4.8"/>
<circle cx="1511.8" cy="1001.6" r="4.8"/>
<circle cx="1511.8" cy="977.2" r="4.8"/>
<circle cx="1511.8" cy="952.7" r="4.8"/>
<circle cx="1537.1" cy="952.7" r="4.8"/>
<circle cx="1537.1" cy="928.3" r="4.8"/>
<circle cx="1537.1" cy="903.8" r="4.8"/>
<circle cx="1562.5" cy="903.8" r="4.8"/>
<circle cx="1562.5" cy="879.4" r="4.8"/>
<circle cx="1587.8" cy="879.4" r="4.8"/>
<circle cx="1587.8" cy="854.9" r="4.8"/>
<circle cx="1587.8" cy="830.5" r="4.8"/>
<circle cx="1613.2" cy="830.5" r="4.8"/>
<circle cx="1638.5" cy="830.5" r="4.8"/>
<circle cx="1638.5" cy="806.0" r="4.8"/>
<circle cx="1638.5" cy="781.6" r="4.8"/>
<circle cx="1663.9" cy="781.6" r="4.8"/>
<circle cx="1663.9" cy="757.1" r="4.8"/>
<circle cx="1689.2" cy="757.1" r="4.8"/>
<circle cx="1689.2" cy="732.7" r="4.8"/>
<circle cx="1689.2" cy="708.2" r="4.8"/>
<circle cx="1714.6" cy="708.2" r="4.8"/>
<circle cx="1714.6" cy="683.8" r="4.8"/>
<circle cx="1740.0" cy="683.8" r="4.8"/>
<circle cx="1765.3" cy="683.8" r="4.8"/>
<circle cx="1790.7" cy="683.8" r="4.8"/>
<circle cx="1816.0" cy="683.8" r="4.8"/>
</g>
<text x="1617.3" y="642.6" font-size="24" font-family='"DejaVu Serif Condensed", "DejaVu Serif", "Liberation Serif", serif' font-weight="bold" textLength="105.0" lengthAdjust="spacingAndGlyphs">miR-15b</text>
<text x="1546.6" y="1067.7" font-size="24" font-family='"DejaVu Serif Condensed", "DejaVu Serif", "Liberation Serif", serif' font-weight="bold" textLength="235.7" lengthAdjust="spacingAndGlyphs">100-Specificity (%)</text>
<text x="1407.8" y="931.9" font-size="24" font-family='"DejaVu Serif Condensed", "DejaVu Serif", "Liberation Serif", serif' font-weight="bold" textLength="178.4" lengthAdjust="spacingAndGlyphs" transform="rotate(-90 1407.8 931.9)">Sensitivity (%)</text>
<text x="1625.8" y="922.2" font-size="25.5" font-family='"Liberation Serif", serif' textLength="338.5" lengthAdjust="spacingAndGlyphs">AUC = 0.59 (95% CI 0.37-0.81)</text>
<text x="1625.8" y="954.9" font-size="25.5" font-family='"Liberation Serif", serif' textLength="174.3" lengthAdjust="spacingAndGlyphs">p value = 0.4094</text>
</svg></body></html>
